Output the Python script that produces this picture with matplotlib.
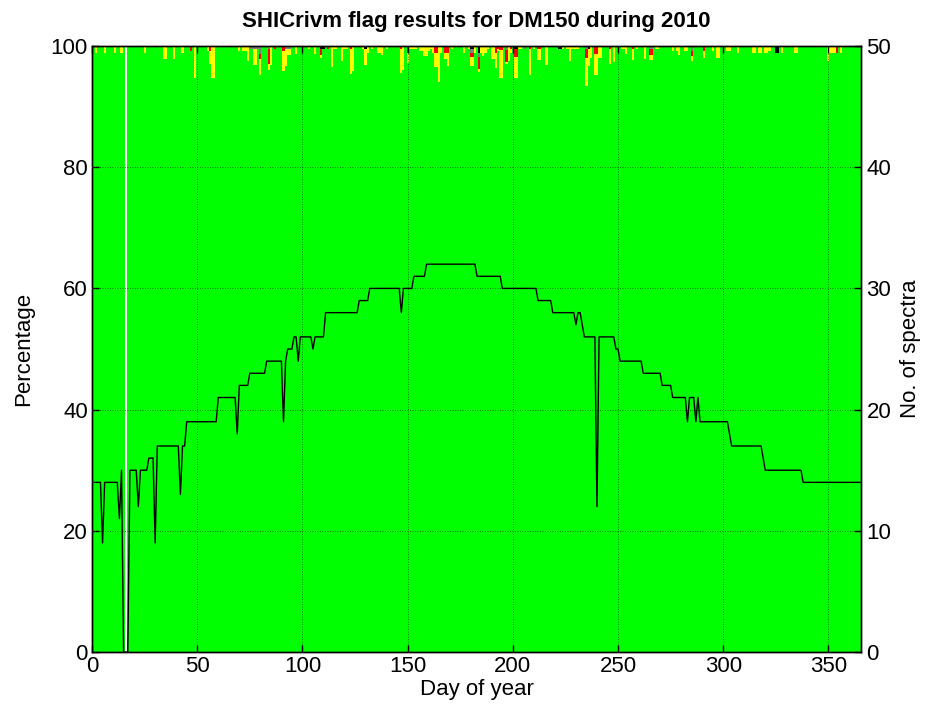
import numpy as np
import matplotlib
matplotlib.use("Agg")
import matplotlib.pyplot as plt

plt.rcParams['font.family'] = ['Liberation Sans', 'DejaVu Sans']

# number of spectra per day, as runs: value holds from start day up to the next start
spectra_start = [1, 5, 6, 13, 14, 15, 18, 22, 23, 27, 30, 31, 42, 43, 45, 60, 69, 70,
                 75, 83, 91, 92, 93, 96, 98, 99, 105, 106, 111, 127, 132, 147, 148,
                 153, 159, 183, 195, 212, 219, 230, 231, 233, 234, 240, 241, 249, 251,
                 262, 271, 276, 283, 284, 287, 288, 289, 303, 304, 319, 320, 338]
spectra_value = [14, 9, 14, 11, 15, 0, 15, 12, 15, 16, 9, 17, 13, 17, 19, 21, 18, 22,
                 23, 24, 19, 24, 25, 26, 24, 26, 25, 26, 28, 29, 30, 28, 30,
                 31, 32, 31, 30, 29, 28, 27, 28, 27, 26, 12, 26, 25, 24,
                 23, 22, 21, 19, 21, 19, 21, 19, 18, 17, 16, 15, 14]
last_day = 365
missing_days = [16]

# flag percentages (only days with a non-zero share)
yellow_day = [2, 6, 11, 14, 25, 34, 35, 39, 43, 49, 55, 56, 57, 58, 70, 72, 73, 74, 77, 78,
              80, 84, 85, 91, 92, 93, 94, 97, 103, 106, 109, 114, 115, 116, 119, 120, 121,
              123, 124, 129, 130, 131, 133, 136, 137, 138, 140, 147, 148, 150, 151, 152,
              153, 154, 156, 157, 158, 159, 160, 161, 162, 163, 164, 165, 166, 168, 169,
              171, 177, 179, 180, 181, 182, 184, 185, 186, 187, 188, 190, 191, 192, 193,
              194, 195, 197, 198, 199, 201, 202, 203, 204, 208, 210, 212, 213, 216, 224,
              226, 227, 228, 229, 230, 231, 235, 236, 237, 239, 240, 241, 242, 246, 248,
              252, 253, 254, 257, 259, 263, 265, 266, 268, 269, 276, 278, 279, 282, 283,
              285, 291, 295, 297, 298, 302, 303, 307, 314, 315, 317, 318, 320, 321, 322,
              328, 334, 335, 350, 351, 352, 353, 356]
yellow_pct = [1.1, 1.1, 1.1, 1.1, 1.1, 2.2, 2.2, 2.2, 1.1, 5.2, 0.8, 2.1, 5.2, 5.2, 0.8, 0.8, 0.8, 2.5, 2.7, 2.7,
              2.6, 1.0, 3.1, 3.3, 2.9, 1.0, 1.0, 1.4, 0.44, 1.4, 0.5, 3.4, 0.44, 0.44, 2.5, 0.44, 0.44,
              4.1, 4.1, 0.44, 2.7, 1.1, 0.44, 1.1, 1.1, 1.5, 0.44, 4.0, 4.0, 1.7, 0.44, 0.44,
              0.44, 0.44, 0.8, 0.8, 1.6, 1.6, 0.8, 0.44, 1.1, 2.3, 2.3, 6.0, 1.1, 1.1, 2.2,
              0.44, 1.1, 0.44, 1.6, 1.6, 1.1, 0.55, 1.1, 1.6, 1.1, 0.44, 2.2, 2.2, 2.6, 0.44,
              4.6, 4.6, 0.44, 2.5, 0.66, 3.5, 3.5, 0.44, 0.44, 4.3, 0.44, 1.9, 1.9, 3.1, 0.44,
              0.44, 2.5, 0.44, 0.44, 0.44, 0.44, 4.6, 2.9, 1.9, 3.4, 3.4, 1.9, 1.9, 2.5, 2.7,
              0.44, 0.44, 1.4, 1.8, 0.44, 2.2, 0.8, 0.8, 0.44, 0.44, 0.8, 0.8, 1.5, 0.8, 0.8,
              0.8, 1.1, 0.8, 1.9, 1.9, 0.8, 0.8, 1.1, 1.1, 1.1, 1.1, 1.1, 1.1, 1.1, 0.8,
              1.1, 1.1, 1.1, 2.5, 1.1, 1.1, 1.1, 1.1]
red_day = [47, 56, 80, 84, 87, 91, 109, 112, 123, 147, 150, 163, 164, 168, 169, 180, 181,
           184, 192, 193, 194, 195, 197, 199, 201, 202, 208, 212, 213, 235, 239, 240, 246,
           257, 265, 266, 285, 291, 354]
red_pct = [0.8, 0.8, 0.8, 2.6, 0.44, 0.8, 1.0, 0.44, 0.44, 0.44, 1.1, 1.1, 1.1, 1.1, 1.1, 0.66, 0.66,
           2.0, 1.1, 0.44, 0.66, 0.66, 1.9, 0.44, 1.3, 1.3, 0.44, 0.44, 0.44, 1.5, 1.4, 1.4, 0.44,
           0.44, 1.0, 1.0, 0.9, 0.8, 1.1]
gray_day = [75, 76, 77, 78, 79, 80, 84, 92, 93, 94, 180, 181, 184, 197, 206, 235, 265, 266, 285]
gray_pct = [0.44, 0.44, 0.44, 0.44, 0.44, 1.4, 0.44, 0.44, 0.44, 0.44, 0.66, 0.66, 0.66, 0.66,
            0.44, 0.44, 0.44, 0.44, 0.8]
black_day = [109, 110, 130, 180, 181, 184, 201, 202, 222, 223, 236, 325, 326]
black_pct = [0.44, 0.44, 0.44, 0.44, 0.44, 1.1, 0.44, 0.44, 0.44, 0.44, 0.44, 1.1, 1.1]

days = np.arange(1, last_day + 1)
counts = np.diff(spectra_start + [last_day + 1])
spectra = np.repeat(spectra_value, counts)


def per_day(d, v):
    arr = np.zeros(last_day)
    arr[np.array(d) - 1] = v
    return arr


yellow = per_day(yellow_day, yellow_pct)
red = per_day(red_day, red_pct)
gray = per_day(gray_day, gray_pct)
black = per_day(black_day, black_pct)
green = 100 - (yellow + red + gray + black)
for d in missing_days:
    green[d - 1] = 0

fig = plt.figure(figsize=(9.27, 7.2), dpi=100)
ax = fig.add_axes([0.0993, 0.0944, 0.8295, 0.8417])

bottom = np.zeros(last_day)
for vals, col in [(green, '#00ff00'), (yellow, '#ffff00'), (red, '#ff0000'),
                  (gray, '#808080'), (black, '#000000')]:
    ax.bar(days, vals, width=1.0, bottom=bottom, color=col, linewidth=0)
    bottom = bottom + vals

ax.set_xlim(0, 365.5)
ax.set_ylim(0, 100)
ax.set_xticks(np.arange(0, 351, 50))
ax.set_yticks(np.arange(0, 101, 20))
ax.set_axisbelow(False)
ax.grid(True, color='k', linestyle=(0, (1, 2)), linewidth=0.6, alpha=0.7)
ax.tick_params(direction='in', length=5, labelsize=16, top=True, width=1, pad=3)
ax.set_xlabel('Day of year', fontsize=16, labelpad=1)
ax.set_ylabel('Percentage', fontsize=16, labelpad=12)
ax.set_title('SHICrivm flag results for DM150 during 2010', fontsize=16,
             fontweight='bold', pad=14)

ax2 = ax.twinx()
ax2.plot(days, spectra, color='k', linewidth=1.0)
ax2.set_ylim(0, 50)
ax2.set_yticks(np.arange(0, 51, 10))
ax2.tick_params(direction='in', length=5, labelsize=16, width=1, pad=4)
ax2.set_ylabel('No. of spectra', fontsize=16, labelpad=6)

for a in (ax, ax2):
    for s in a.spines.values():
        s.set_linewidth(1.0)

fig.savefig('out.png', dpi=100)
